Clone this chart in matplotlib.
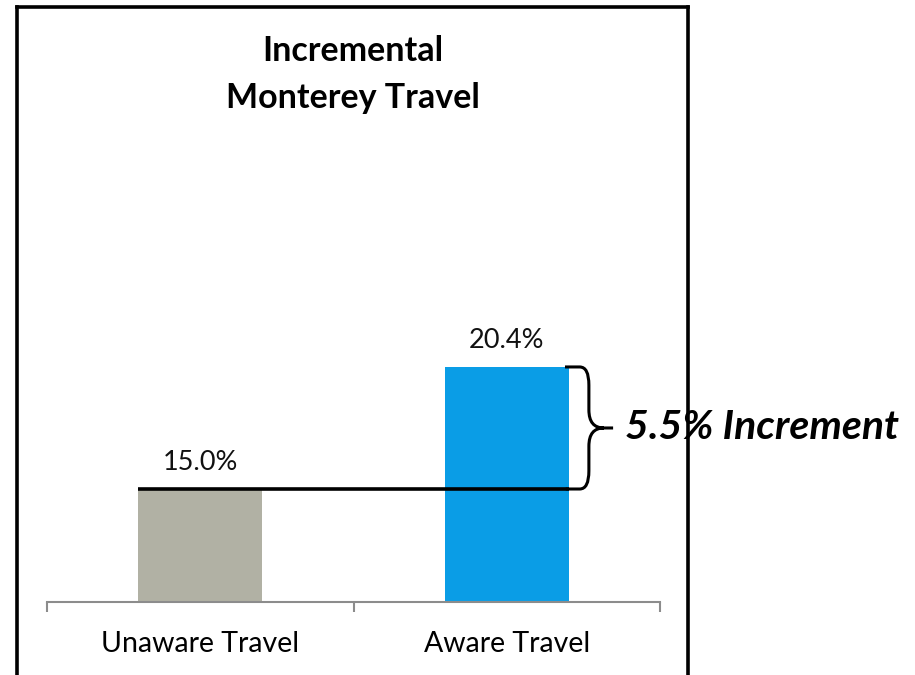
import numpy as np
import matplotlib.pyplot as plt
from matplotlib.path import Path
from matplotlib.patches import PathPatch
from matplotlib.lines import Line2D

plt.rcParams['font.family'] = ['Lato', 'DejaVu Sans']

categories = ['Unaware Travel', 'Aware Travel']
travel_pct = [15.0, 20.4]
bar_colors = ['#b1b1a4', '#0a9de6']
increment_label = '5.5% Increment'

fig = plt.figure(figsize=(9.15, 6.75), dpi=100)
ax = fig.add_axes([47 / 915, 1 - 602 / 675, 613 / 915, 472 / 675])

x = np.arange(len(categories))
bar_w = 0.405
bars = ax.bar(x, travel_pct, width=bar_w, color=bar_colors, zorder=2)

ax.set_xlim(-0.5, 1.5)
ax.set_ylim(10, 10 + 472 / 22.6)

for rect, v in zip(bars, travel_pct):
    ax.annotate(f'{v:.1f}%', (rect.get_x() + rect.get_width() / 2, v),
                xytext=(0, 10), textcoords='offset points',
                ha='center', va='bottom', fontsize=19.5, color='#111111')

# axis styling: only the bottom spine with category separators
for s in ['left', 'right', 'top']:
    ax.spines[s].set_visible(False)
ax.spines['bottom'].set_color('#8c8c8c')
ax.spines['bottom'].set_linewidth(1.5)
ax.set_yticks([])
ax.set_xticks(x)
ax.set_xticklabels(categories, fontsize=20.5)
ax.tick_params(axis='x', which='major', length=0, pad=21)
ax.set_xticks([-0.5, 0.5, 1.5], minor=True)
ax.tick_params(axis='x', which='minor', length=7.5, width=1.5, color='#8c8c8c')

# baseline from the unaware bar to the brace
lo, hi = travel_pct
x0 = x[0] - bar_w / 2
xr = x[1] + bar_w / 2
xv = 1.268
xt = 1.347
mid = (lo + hi) / 2
r = 0.03   # corner size in x units
ry = 0.8   # corner size in y units
ax.plot([x0, xr], [lo, lo], color='black', lw=2.6, solid_capstyle='butt', zorder=3)

# curly brace spanning the difference
verts = [
    (x[1] + 0.19, hi), (xv - r, hi),
    (xv, hi), (xv, hi - ry),
    (xv, mid + ry),
    (xv, mid), (xt - 0.03, mid),
    (xt, mid),
    (xt - 0.03, mid), (xv, mid), (xv, mid - ry),
    (xv, lo + ry),
    (xv, lo), (xv - r, lo),
    (xr - 0.01, lo),
]
codes = [Path.MOVETO, Path.LINETO,
         Path.CURVE3, Path.CURVE3,
         Path.LINETO,
         Path.CURVE3, Path.CURVE3,
         Path.LINETO,
         Path.MOVETO, Path.CURVE3, Path.CURVE3,
         Path.LINETO,
         Path.CURVE3, Path.CURVE3,
         Path.LINETO]
brace = PathPatch(Path(verts, codes), fill=False, lw=2.2, color='black',
                  capstyle='butt', clip_on=False, zorder=3)
ax.add_patch(brace)

ax.text(1.386, mid, increment_label, fontsize=29.5, fontweight='bold',
        fontstyle='italic', ha='left', va='center', clip_on=False, zorder=1)

# two-line title
for line, ypix in [('Incremental', 51), ('Monterey Travel', 98)]:
    fig.text(353 / 915, 1 - ypix / 675, line, ha='center', va='center',
             fontsize=24.5, fontweight='bold')

# frame around the chart (open at the bottom)
fw = 2.6
fig.add_artist(Line2D([17 / 915, 17 / 915], [0, 1 - 7 / 675], color='black', lw=fw,
                      solid_capstyle='projecting'))
fig.add_artist(Line2D([17 / 915, 688 / 915], [1 - 7 / 675, 1 - 7 / 675], color='black', lw=fw,
                      solid_capstyle='projecting'))
fig.add_artist(Line2D([688 / 915, 688 / 915], [0, 1 - 7 / 675], color='black', lw=fw,
                      solid_capstyle='projecting', zorder=5))

fig.savefig('out.png', dpi=100)
